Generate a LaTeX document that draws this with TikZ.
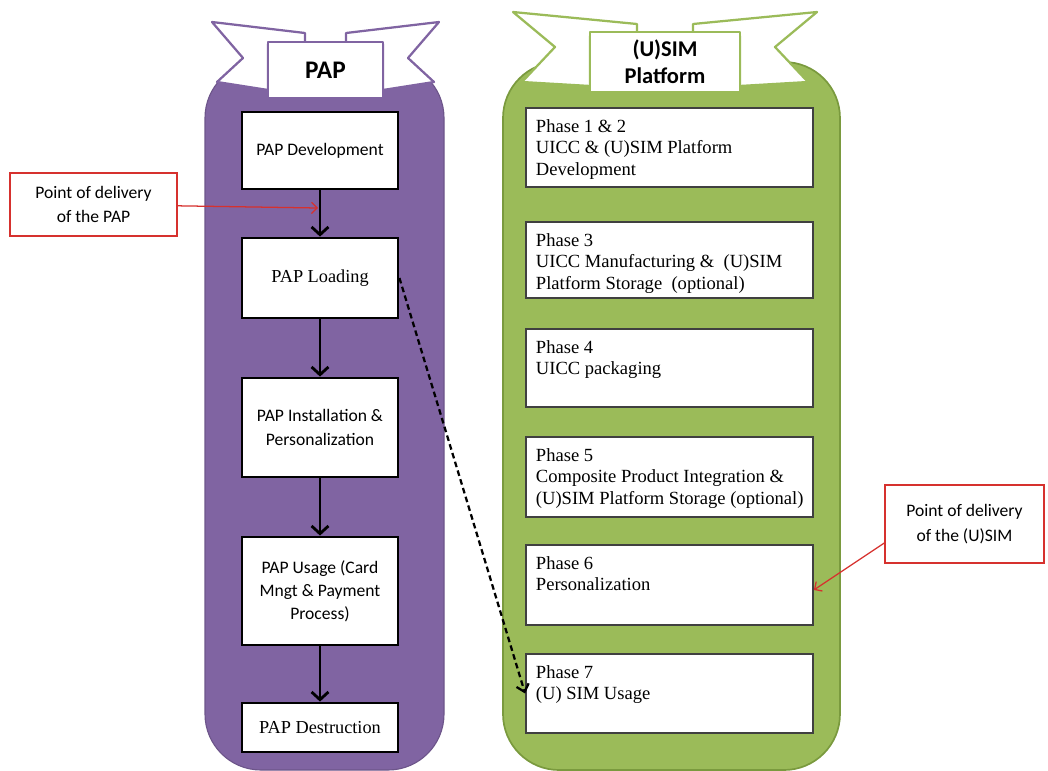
\documentclass[tikz,border=0pt]{standalone}
\usepackage{fontspec}
\setmainfont{Liberation Serif}
\newfontfamily\calibri{Carlito}
\usetikzlibrary{arrows.meta}
\definecolor{papfill}{HTML}{8064A2}
\definecolor{simfill}{HTML}{9BBB59}
\definecolor{simline}{HTML}{7A9A3E}
\definecolor{callred}{HTML}{D6312E}

\begin{document}
\begin{tikzpicture}[x=.025cm,y=-.025cm,
    papwing/.style={draw=papfill,line width=1.6pt,fill=white,line join=round},
    simwing/.style={draw=simfill,line width=1.6pt,fill=white,line join=round},
    ribbontitle/.style={inner sep=0pt,align=center,font=\calibri\bfseries\fontsize{18}{20}\selectfont},
    papbox/.style={draw,line width=2pt,fill=white,minimum width=3.9cm,align=center,
      font=\calibri\fontsize{12.5}{16.5}\selectfont},
    phasebox/.style={draw=black!75,line width=1.2pt,fill=white,minimum width=7.175cm},
    phasetext/.style={inner sep=0pt,align=left,anchor=north west,xshift=7.5pt,yshift=-8.5pt,
      font=\fontsize{13.2}{15.4}\selectfont},
    flow/.style={line width=2pt,-{Straight Barb[length=5.5pt,width=12pt]}},
    callout/.style={draw=callred,line width=1pt,fill=white,align=center,
      font=\calibri\fontsize{12.5}{17.5}\selectfont},
    redarrow/.style={draw=callred,line width=.9pt,-{Straight Barb[length=4pt,width=8pt]}}]
  \useasboundingbox (0,0) rectangle (1048,771);

  \filldraw[fill=papfill,draw=papfill!85!black,line width=.8pt,rounded corners=1.4cm]
    (205,62) rectangle (444,770);
  \filldraw[fill=simfill,draw=simline,line width=1.2pt,rounded corners=1.4cm]
    (503,62) rectangle (840,770);

  \filldraw[papwing] (212,22) -- (305,33) -- (305,44) -- (268,44) -- (268,90)
    -- (217,82) -- (243,58) -- cycle;
  \filldraw[papwing] (439,22) -- (346,33) -- (346,44) -- (383,44) -- (383,90)
    -- (434,82) -- (408,58) -- cycle;
  \node[papwing,ribbontitle,minimum width=2.875cm,minimum height=1.4cm] (paptitle)
    at (325.5,70) {PAP};

  \filldraw[simwing] (513,12) -- (637,24) -- (637,36) -- (590,36) -- (590,86)
    -- (522,82) -- (555,47) -- cycle;
  \filldraw[simwing] (817,12) -- (693,24) -- (693,36) -- (740,36) -- (740,86)
    -- (808,82) -- (775,47) -- cycle;
  \node[simwing,ribbontitle,minimum width=3.75cm,minimum height=1.5cm,
    font=\calibri\bfseries\fontsize{16}{19.5}\selectfont] (simtitle)
    at (665,62) {(U)SIM\\Platform};

  \node[papbox,minimum height=1.925cm] (dev) at (320,150.5) {PAP Development};
  \node[papbox,minimum height=2cm,font=\fontsize{13}{16}\selectfont] (load)
    at (320,278) {PAP Loading};
  \node[papbox,minimum height=2.475cm] (inst) at (320,427.5)
    {PAP Installation \&\\Personalization};
  \node[papbox,minimum height=2.7cm] (usage) at (320,591)
    {PAP Usage (Card\\Mngt \& Payment\\Process)};
  \node[papbox,minimum height=1.225cm,font=\fontsize{13}{16}\selectfont] (destr)
    at (320,727.5) {PAP Destruction};

  \draw[flow] (dev) -- (load);
  \draw[flow] (load) -- (inst);
  \draw[flow] (inst) -- (usage);
  \draw[flow] (usage) -- (destr);

  \node[phasebox,minimum height=1.975cm,
    label={[phasetext]north west:Phase 1 \& 2\\UICC \& (U)SIM Platform\\Development}]
    (ph1) at (669.5,147.5) {};
  \node[phasebox,minimum height=1.9cm,
    label={[phasetext]north west:Phase 3\\UICC Manufacturing \& \ (U)SIM\\Platform Storage \ (optional)}]
    (ph2) at (669.5,260) {};
  \node[phasebox,minimum height=1.95cm,
    label={[phasetext]north west:Phase 4\\UICC packaging}]
    (ph3) at (669.5,368) {};
  \node[phasebox,minimum height=2cm,
    label={[phasetext]north west:Phase 5\\Composite Product Integration \&\\(U)SIM Platform Storage (optional)}]
    (ph4) at (669.5,477) {};
  \node[phasebox,minimum height=2cm,
    label={[phasetext]north west:Phase 6\\Personalization}]
    (ph5) at (669.5,585) {};
  \node[phasebox,minimum height=1.975cm,
    label={[phasetext]north west:Phase 7\\(U) SIM Usage}]
    (ph6) at (669.5,693.5) {};

  \draw[line width=1.6pt,dash pattern=on 4pt off 2.5pt,-{Straight Barb[length=5pt,width=9pt]}]
    (load.east) -- (ph6.west);

  \node[callout,minimum width=4.175cm,minimum height=1.575cm] (pointpap)
    at (93.5,204.5) {Point of delivery\\of the PAP};
  \coordinate (pappoint) at (318,208);
  \draw[redarrow] (pointpap) -- (pappoint);

  \node[callout,minimum width=3.975cm,minimum height=1.95cm] (pointsim)
    at (964.5,524) {Point of delivery\\of the (U)SIM};
  \draw[redarrow] ([yshift=-13.5pt]pointsim.west) -- ([yshift=-3.5pt]ph5.east);
\end{tikzpicture}
\end{document}
